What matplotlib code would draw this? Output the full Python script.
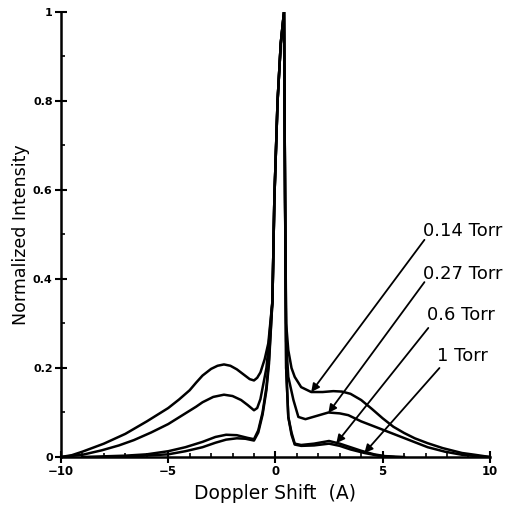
import matplotlib
matplotlib.use("Agg")
import matplotlib.pyplot as plt
from matplotlib.ticker import MultipleLocator

# ---- data ----
x_014 = [-10, -9.5, -9, -8, -7, -6, -5, -4.5, -4, -3.7, -3.4, -3.0, -2.7, -2.4, -2.1, -1.8, -1.5, -1.2, -1.0,
         -0.85, -0.7, -0.5, -0.33, -0.14, -0.05,
         0.1, 0.25, 0.4, 0.45, 0.5, 0.6, 0.75, 0.9, 1.2, 1.67, 2.2, 2.7, 3.1, 3.5, 4.0, 4.5, 5.0, 5.5, 6.0, 6.5,
         7.1, 7.8, 8.7, 9.3, 10]
y_014 = [0, 0.004, 0.012, 0.03, 0.052, 0.08, 0.11, 0.129, 0.15, 0.167, 0.183, 0.198, 0.205, 0.208, 0.205,
         0.197, 0.186, 0.175, 0.172, 0.178, 0.19,
         0.22, 0.256, 0.35, 0.58, 0.8, 0.93, 1.0, 0.58, 0.3, 0.24, 0.2, 0.18, 0.157, 0.146, 0.146, 0.148, 0.147,
         0.142, 0.128, 0.108, 0.087, 0.068, 0.054, 0.042, 0.031, 0.02, 0.009, 0.005, 0]

x_027 = [-10, -9, -8.1, -7.3, -6.6, -5.8, -5, -4.2, -3.7, -3.4, -2.9, -2.4, -2.0, -1.6, -1.3, -1.0, -0.85, -0.7,
         -0.42, -0.3, -0.14, -0.05, 0.1, 0.25, 0.4, 0.45, 0.5, 0.6, 0.84, 1.07, 1.4, 1.9, 2.47, 3.0, 3.4, 4.0,
         4.7, 5.5, 6.3, 7.1, 7.9, 8.7, 9.4, 10]
y_027 = [0, 0.005, 0.015, 0.026, 0.038, 0.055, 0.074, 0.098, 0.113, 0.123, 0.135, 0.14, 0.137, 0.128, 0.117,
         0.105, 0.11, 0.13, 0.2, 0.26, 0.35, 0.58, 0.8, 0.93, 1.0, 0.58, 0.26, 0.18, 0.128, 0.09, 0.085, 0.092,
         0.1, 0.098, 0.094, 0.08, 0.067, 0.052, 0.037, 0.022, 0.012, 0.005, 0.002, 0]

x_06 = [-9, -7, -6, -5, -4.2, -3.4, -2.8, -2.3, -1.8, -1.3, -1.0, -0.8, -0.6, -0.42, -0.3, -0.14, -0.05, 0.1,
        0.25, 0.4, 0.45, 0.5, 0.6, 0.75, 0.9, 1.2, 1.8, 2.5, 3.0, 3.5, 4.0, 4.6, 5.1, 6]
y_06 = [0, 0.003, 0.006, 0.013, 0.022, 0.034, 0.045, 0.05, 0.049, 0.043, 0.04, 0.06, 0.1, 0.157, 0.22, 0.35,
        0.58, 0.8, 0.93, 1.0, 0.58, 0.2, 0.09, 0.055, 0.03, 0.027, 0.03, 0.036, 0.03, 0.022, 0.014, 0.006, 0.002, 0]

x_1 = [-8, -6.5, -5, -4.2, -3.4, -2.8, -2.3, -1.8, -1.4, -1.0, -0.8, -0.6, -0.42, -0.3, -0.14, -0.05, 0.1, 0.25,
       0.4, 0.45, 0.5, 0.6, 0.75, 0.9, 1.2, 1.8, 2.5, 3.0, 3.5, 4.15, 4.8, 5.5]
y_1 = [0, 0.002, 0.006, 0.013, 0.022, 0.032, 0.039, 0.042, 0.041, 0.037, 0.055, 0.095, 0.15, 0.21, 0.35, 0.58,
       0.8, 0.93, 1.0, 0.58, 0.2, 0.09, 0.05, 0.028, 0.025, 0.026, 0.03, 0.025, 0.017, 0.009, 0.003, 0]

labels = ["0.14 Torr", "0.27 Torr", "0.6 Torr", "1 Torr"]
label_pos = [(6.9, 0.508), (6.9, 0.412), (7.05, 0.318), (7.55, 0.228)]
arrow_start = [(6.95, 0.488), (6.95, 0.393), (7.13, 0.29), (7.65, 0.2)]
arrow_end = [(1.67, 0.146), (2.47, 0.099), (2.84, 0.031), (4.15, 0.009)]

x_ticks = [-10, -5, 0, 5, 10]
x_ticklabels = ["\u221210", "\u22125", "0", "5", "10"]
y_ticks = [0, 0.2, 0.4, 0.6, 0.8, 1.0]
y_ticklabels = ["0", "0.2", "0.4", "0.6", "0.8", "1"]

fig = plt.figure(figsize=(5.14, 5.08), dpi=100)
ax = fig.add_axes([0.1187, 0.1004, 0.8343, 0.876])

for xs, ys in [(x_014, y_014), (x_027, y_027), (x_06, y_06), (x_1, y_1)]:
    ax.plot(xs, ys, color="black", lw=1.8, solid_joinstyle="round")

ax.set_xlim(-10, 10)
ax.set_ylim(0, 1)
ax.spines["top"].set_visible(False)
ax.spines["right"].set_visible(False)
ax.spines["left"].set_linewidth(1.8)
ax.spines["bottom"].set_linewidth(1.8)

ax.set_xticks(x_ticks)
ax.set_xticklabels(x_ticklabels, fontsize=8.5, fontweight="bold")
ax.set_yticks(y_ticks)
ax.set_yticklabels(y_ticklabels, fontsize=8, fontweight="bold")
ax.xaxis.set_minor_locator(MultipleLocator(1))
ax.yaxis.set_minor_locator(MultipleLocator(0.1))
ax.tick_params(which="major", direction="inout", length=8, width=1.5, pad=2)
ax.tick_params(which="minor", direction="in", length=3, width=1.2)

ax.set_xlabel("Doppler Shift  (A)", fontsize=13.5, labelpad=4)
ax.set_ylabel("Normalized Intensity", fontsize=12.5, labelpad=2)

for lab, (tx, ty), (sx, sy), (ex, ey) in zip(labels, label_pos, arrow_start, arrow_end):
    ax.text(tx, ty, lab, fontsize=13, va="center", ha="left")
    ax.annotate("", xy=(ex, ey), xytext=(sx, sy),
                arrowprops=dict(arrowstyle="-|>", lw=1.3, color="black", mutation_scale=12,
                                shrinkA=0, shrinkB=0))

fig.savefig("out.png", dpi=100)
